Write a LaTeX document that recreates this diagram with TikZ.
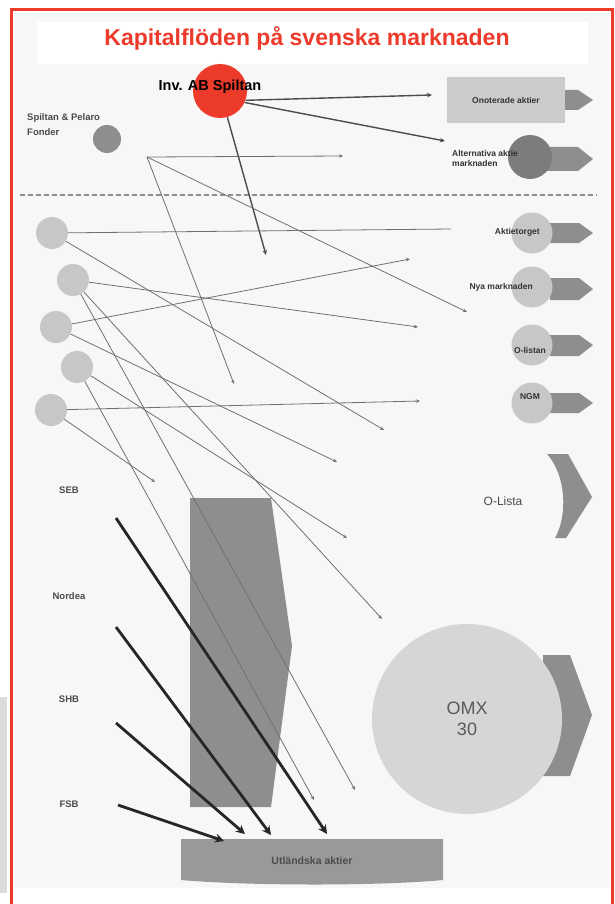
\documentclass[tikz,border=0pt]{standalone}
\usepackage{fontspec}
\setmainfont{Liberation Sans}
\usetikzlibrary{arrows.meta, positioning, shapes.geometric}
\definecolor{kapRed}{HTML}{EC3A2B}
\definecolor{kapPanel}{HTML}{F7F7F7}
\definecolor{kapSheet}{HTML}{DADBDD}
\definecolor{discLight}{HTML}{C7C7C7}
\definecolor{discOmx}{HTML}{D6D6D6}
\definecolor{discDark}{HTML}{7C7C7C}
\definecolor{tailGray}{HTML}{8E8E8E}
\definecolor{boxLight}{HTML}{CBCBCB}
\definecolor{flowGray}{HTML}{707070}
\definecolor{textGray}{HTML}{4A4A4A}
\tikzset{
  flow/.style={-{Stealth[length=4pt,width=3.5pt]}, flowGray, line width=0.8pt},
  flowS/.style={-{Stealth[length=5pt,width=4.5pt]}, black!70, line width=1.4pt},
  flowB/.style={-{Stealth[length=9pt,width=9pt]}, black!85, line width=2.8pt},
  srcDisc/.style={circle, fill=discLight, minimum size=32pt, inner sep=0pt},
  mktDisc/.style={circle, fill=discLight, minimum size=41pt, inner sep=0pt},
  tailA/.style={fill=tailGray},
  mktLabel/.style={font=\bfseries\fontsize{8.5}{10}\selectfont, text=black!80,
                   inner sep=0pt},
  bankLabel/.style={font=\bfseries\fontsize{9.5}{11}\selectfont, text=textGray,
                    inner sep=0pt},
}
\begin{document}
\begin{tikzpicture}[x=1pt, y=-1pt]
  \useasboundingbox (0,0) rectangle (615,904);
  % background, frame
  \fill[white] (0,0) rectangle (615,904);
  \fill[kapSheet] (0,697) rectangle (7,893);
  \fill[kapPanel] (14,13) rectangle (610,888);
  \fill[white] (37,22) rectangle (588,64);
  \draw[kapRed, line width=3pt] (11,930) -- (11,10) -- (612,10) -- (612,930);
  \node[text=kapRed, font=\bfseries\fontsize{23}{26}\selectfont] (title) at (307,38)
    {Kapitalflöden på svenska marknaden};
  \draw[tailGray, line width=1.2pt, dash pattern=on 5pt off 3pt] (20,195) -- (597,195);

  % right column
  \fill[tailA] (555,90) -- (578,90) -- (593,100) -- (578,110) -- (555,110) -- cycle;
  \node[rectangle, fill=boxLight, minimum width=118pt, minimum height=46pt,
        mktLabel] (ono) at (506,100) {Onoterade aktier};
  \fill[tailA] (545,147) -- (578,147) -- (593,159) -- (578,171) -- (545,171) -- cycle;
  \node[circle, fill=discDark, minimum size=44pt] (alt) at (530,157) {};
  \node[mktLabel, anchor=west, align=left] (altText) at (452,158)
    {Alternativa aktie\\marknaden};
  \fill[tailA] (550,223) -- (579,223) -- (593,233) -- (579,243) -- (550,243) -- cycle;
  \node[mktDisc] (akt) at (532,233) {};
  \node[mktLabel, anchor=east] (aktText) at (540,232) {Aktietorget};
  \fill[tailA] (550,278) -- (579,278) -- (593,289) -- (579,300) -- (550,300) -- cycle;
  \node[mktDisc] (nya) at (532,287) {};
  \node[mktLabel, anchor=east] (nyaText) at (533,287) {Nya marknaden};
  \fill[tailA] (550,335) -- (579,335) -- (593,345) -- (579,356) -- (550,356) -- cycle;
  \node[mktDisc] (olistan) at (532,345) {};
  \node[mktLabel] (olText) at (530,350) {O-listan};
  \fill[tailA] (550,393) -- (579,393) -- (593,403) -- (579,413) -- (550,413) -- cycle;
  \node[mktDisc] (ngm) at (532,403) {};
  \node[mktLabel] (ngmText) at (530,397) {NGM};
  \fill[tailA] (547,454) -- (568,454) -- (592,497) -- (566,538) -- (555,538)
    .. controls (568,515) and (566,475) .. (547,454);
  \node[font=\fontsize{12}{14}\selectfont, text=textGray] (olista) at (503,501) {O-Lista};
  \fill[tailA] (543,655) -- (570,655) -- (592,715) -- (570,776) -- (543,776) -- cycle;
  \node[circle, fill=discOmx, minimum size=190pt, inner sep=0pt] (omx) at (467,719) {};
  \node[font=\fontsize{18}{21}\selectfont, text=black!65, align=center] (omxText)
    at (467,719) {OMX\\30};

  % sources
  \node[mktLabel, font=\bfseries\fontsize{9.5}{15}\selectfont, text=textGray,
        anchor=west, align=left] (fondText) at (27,125) {Spiltan \& Pelaro\\Fonder};
  \node[circle, fill=tailGray, minimum size=28pt] (fond) at (107,139) {};
  \node[circle, fill=kapRed, minimum size=54pt] (spiltan) at (220,91) {};
  \node[font=\bfseries\fontsize{14.5}{16}\selectfont] (spiltanText) at (210,87)
    {Inv. AB Spiltan};
  \coordinate (hub) at (147,157);
  \node[srcDisc] (src1) at (52,233) {};
  \node[srcDisc] (src2) at (73,280) {};
  \node[srcDisc] (src3) at (56,327) {};
  \node[srcDisc] (src4) at (77,367) {};
  \node[srcDisc] (src5) at (51,410) {};

  % middle block
  \fill[tailA] (190,498) -- (271,498) -- (292,646) -- (271,807) -- (190,807) -- cycle;

  % free ends
  \coordinate (tOno) at (432,95);
  \coordinate (tAlt) at (445,141);
  \coordinate (tDown) at (266,255);
  \coordinate (tHubR) at (343,156);
  \coordinate (tHubD) at (234,384);
  \coordinate (tHubN) at (467,312);
  \coordinate (tAkt) at (451,229);
  \coordinate (tC1) at (384,430);
  \coordinate (tC2a) at (418,327);
  \coordinate (tC2b) at (382,619);
  \coordinate (tC2c) at (355,790);
  \coordinate (tC3a) at (410,259);
  \coordinate (tC3b) at (337,462);
  \coordinate (tC4a) at (347,538);
  \coordinate (tC4b) at (314,800);
  \coordinate (tC5a) at (420,401);
  \coordinate (tC5b) at (155,482);

  \draw[flowS] (spiltan.-20) -- (tOno);
  \draw[flowS] (spiltan.-25) -- (tAlt);
  \draw[flowS] (spiltan) -- (tDown);
  \draw[flow] (hub) -- (tHubR);
  \draw[flow] (hub) -- (tHubD);
  \draw[flow] (hub) -- (tHubN);
  \draw[flowGray, line width=0.8pt] (src1) -- (tAkt);
  \draw[flow] (src1) -- (tC1);
  \draw[flow] (src2) -- (tC2a);
  \draw[flow] (src2) -- (tC2b);
  \draw[flow] (src2) -- (tC2c);
  \draw[flow] (src3) -- (tC3a);
  \draw[flow] (src3) -- (tC3b);
  \draw[flow] (src4) -- (tC4a);
  \draw[flow] (src4) -- (tC4b);
  \draw[flow] (src5) -- (tC5a);
  \draw[flow] (src5) -- (tC5b);

  % foreign shares
  \fill[tailGray!90] (181,839) -- (443,839) -- (443,880)
    .. controls (380,886) and (250,886) .. (181,880) -- cycle;
  \node[font=\bfseries\fontsize{10.5}{12}\selectfont, text=black!70] (utl) at (312,861)
    {Utländska aktier};

  % banks
  \node[bankLabel] (seb) at (69,490) {SEB};
  \node[bankLabel] (nordea) at (69,596) {Nordea};
  \node[bankLabel] (shb) at (69,699) {SHB};
  \node[bankLabel] (fsb) at (69,804) {FSB};
  \coordinate (sebOut) at (116,518);
  \coordinate (nordeaOut) at (116,627);
  \coordinate (shbOut) at (116,723);
  \coordinate (fsbOut) at (118,805);
  \coordinate (sebIn) at (327,834);
  \coordinate (nordeaIn) at (271,835);
  \coordinate (shbIn) at (245,834);
  \coordinate (fsbIn) at (224,841);
  \draw[flowB] (sebOut) -- (sebIn);
  \draw[flowB] (nordeaOut) -- (nordeaIn);
  \draw[flowB] (shbOut) -- (shbIn);
  \draw[flowB] (fsbOut) -- (fsbIn);
\end{tikzpicture}
\end{document}
